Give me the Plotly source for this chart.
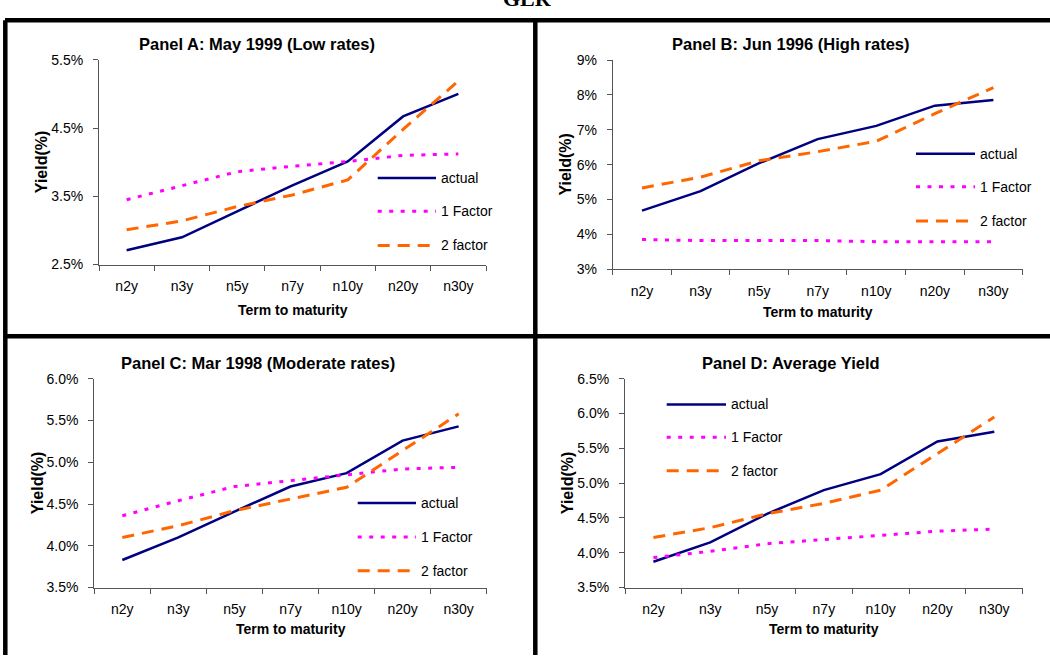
import plotly.graph_objects as go

# ---------------- data ----------------
categories = ["n2y", "n3y", "n5y", "n7y", "n10y", "n20y", "n30y"]
series_names = ["actual", "1 Factor", "2 factor"]

panelA_actual = [2.71, 2.90, 3.28, 3.66, 4.01, 4.67, 5.00]
panelA_factor1 = [3.45, 3.65, 3.86, 3.94, 4.01, 4.10, 4.12]
panelA_factor2 = [3.01, 3.14, 3.35, 3.52, 3.74, 4.48, 5.19]

panelB_actual = [4.68, 5.24, 6.04, 6.73, 7.11, 7.69, 7.85]
panelB_factor1 = [3.85, 3.82, 3.82, 3.82, 3.79, 3.79, 3.79]
panelB_factor2 = [5.33, 5.64, 6.11, 6.37, 6.67, 7.46, 8.21]

panelC_actual = [3.83, 4.10, 4.41, 4.71, 4.87, 5.26, 5.43]
panelC_factor1 = [4.36, 4.54, 4.71, 4.78, 4.85, 4.92, 4.94]
panelC_factor2 = [4.10, 4.24, 4.42, 4.56, 4.70, 5.14, 5.58]

panelD_actual = [3.87, 4.15, 4.56, 4.90, 5.13, 5.60, 5.74]
panelD_factor1 = [3.93, 4.02, 4.13, 4.19, 4.25, 4.31, 4.34]
panelD_factor2 = [4.22, 4.36, 4.56, 4.71, 4.90, 5.43, 5.95]

panel_titles = ["Panel A: May 1999 (Low rates)", "Panel B: Jun 1996 (High rates)",
                "Panel C: Mar 1998 (Moderate rates)", "Panel D: Average Yield"]
y_ranges = [(2.5, 5.5), (3.0, 9.0), (3.5, 6.0), (3.5, 6.5)]
y_dticks = [1.0, 1.0, 0.5, 0.5]
y_formats = [".1f", ".0f", ".1f", ".1f"]
x_title = "Term to maturity"
y_title = "Yield(%)"
page_title = "GLR"

panel_data = [
    [panelA_actual, panelA_factor1, panelA_factor2],
    [panelB_actual, panelB_factor1, panelB_factor2],
    [panelC_actual, panelC_factor1, panelC_factor2],
    [panelD_actual, panelD_factor1, panelD_factor2],
]

# ---------------- layout (pixels) ----------------
W, H = 1050, 658
FONT = "Liberation Sans, Arial, sans-serif"

def fx(x):
    return x / W

def fy(y):
    return 1 - y / H

# plot boxes: (left, right, top, bottom) in pixels
plot_boxes = [(99, 486, 53, 263), (612.7, 1022.7, 53.3, 267.7),
              (94.3, 486.7, 380, 594), (625, 1022.7, 380, 594)]
title_pos = [(257, 37), (791, 37), (258, 363.5), (791, 363.5)]
ytitle_x = [41, 566, 37, 567]
xtitle_y = [310, 311.5, 636.5, 636.5]
# legend: line x0, line x1, text x, row y's
legend_pos = [(377.7, 436, 439, [174.3, 208.3, 243.3]),
              (916, 975, 978, [149.3, 183.3, 218.3]),
              (357.7, 416, 419, [507.3, 542.3, 576.7]),
              (666.7, 726, 729, [406.3, 440, 474.3])]

line_styles = [dict(color="#000080", width=2.5),
               dict(color="#FF00FF", width=3, dash="4px,7.5px"),
               dict(color="#FF6600", width=3, dash="12px,8px")]

AXIS_COLOR = "#555555"

fig = go.Figure()
layout = dict(
    width=W, height=H, margin=dict(l=0, r=0, t=0, b=0),
    paper_bgcolor="white", plot_bgcolor="white", showlegend=False,
    font=dict(family=FONT, size=14, color="black"),
)
annotations = []
shapes = []

for i in range(4):
    suf = "" if i == 0 else str(i + 1)
    xa, ya = "x" + suf, "y" + suf
    l, r, t, b = plot_boxes[i]
    for s in range(3):
        fig.add_trace(go.Scatter(
            x=categories, y=panel_data[i][s], mode="lines", name=series_names[s],
            line=line_styles[s], xaxis=xa, yaxis=ya, hoverinfo="skip"))
    lo, hi = y_ranges[i]
    eps = (hi - lo) * 1e-4
    layout["xaxis" + suf] = dict(
        domain=[fx(l), fx(r)], anchor=ya, type="category", range=[-0.5, 6.5],
        showline=True, linecolor=AXIS_COLOR, linewidth=1, ticks="outside",
        tickson="boundaries", ticklen=5, tickcolor=AXIS_COLOR, tickwidth=1,
        showgrid=False, zeroline=False, tickfont=dict(size=14, family=FONT),
        ticklabelstandoff=9, fixedrange=True)
    layout["yaxis" + suf] = dict(
        domain=[fy(b), fy(t)], anchor=xa, range=[lo - eps, hi + eps],
        tick0=lo, dtick=y_dticks[i], tickformat=y_formats[i], ticksuffix="%",
        showline=True, linecolor=AXIS_COLOR, linewidth=1, ticks="outside",
        ticklen=5, tickcolor=AXIS_COLOR, tickwidth=1, showgrid=False,
        zeroline=False, tickfont=dict(size=14, family=FONT),
        ticklabelstandoff=7, fixedrange=True)
    # panel title
    tx, ty = title_pos[i]
    annotations.append(dict(text="<b>" + panel_titles[i] + "</b>", x=fx(tx), y=fy(ty),
                            xref="paper", yref="paper", xanchor="center", yanchor="middle",
                            showarrow=False, font=dict(size=16.5, family=FONT)))
    # axis titles
    annotations.append(dict(text="<b>" + x_title + "</b>", x=fx((l + r) / 2), y=fy(xtitle_y[i]),
                            xref="paper", yref="paper", xanchor="center", yanchor="middle",
                            showarrow=False, font=dict(size=14, family=FONT)))
    annotations.append(dict(text="<b>" + y_title + "</b>", x=fx(ytitle_x[i]), y=fy((t + b) / 2),
                            xref="paper", yref="paper", xanchor="center", yanchor="middle",
                            textangle=-90, showarrow=False, font=dict(size=16, family=FONT)))
    # legend
    lx0, lx1, ltx, rows = legend_pos[i]
    for s in range(3):
        st = line_styles[s]
        shapes.append(dict(type="line", xref="paper", yref="paper",
                           x0=fx(lx0), x1=fx(lx1), y0=fy(rows[s]), y1=fy(rows[s]),
                           line=dict(color=st["color"], width=st["width"],
                                     dash=st.get("dash", "solid"))))
        annotations.append(dict(text=series_names[s], x=fx(ltx), y=fy(rows[s]),
                                xref="paper", yref="paper", xanchor="left", yanchor="middle",
                                showarrow=False, font=dict(size=14, family=FONT)))

# page title (clipped at top edge, as in the reference)
annotations.append(dict(text="<b>" + page_title + "</b>", x=fx(527), y=fy(5),
                        xref="paper", yref="paper", xanchor="center", yanchor="bottom",
                        showarrow=False, font=dict(size=22, family="Liberation Serif, Times New Roman, serif")))

# table borders
BW = 4.5
border = [(5, 12.5, W + 5, 12.5), (5.3, 12.5, 5.3, H + 5), (535.3, 12.5, 535.3, H + 5),
          (5, 336.5, W + 5, 336.5)]
for x0, y0, x1, y1 in border:
    shapes.append(dict(type="line", xref="paper", yref="paper", x0=fx(x0), y0=fy(y0),
                       x1=fx(x1), y1=fy(y1), line=dict(color="black", width=BW)))

layout["annotations"] = annotations
layout["shapes"] = shapes
fig.update_layout(**layout)

post = ("document.body.style.margin='0';document.body.style.overflow='hidden';"
        "var d=document.getElementById('{plot_id}');d.style.position='absolute';"
        "d.style.left='0px';d.style.top='0px';")
fig.write_html("out.html", post_script=post, config={"displayModeBar": False})
